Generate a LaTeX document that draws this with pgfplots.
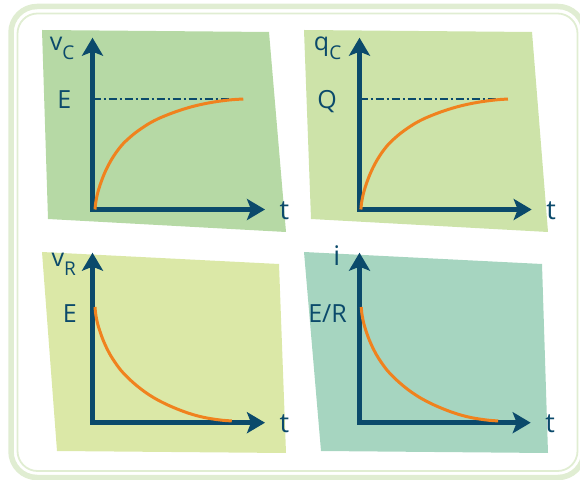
\documentclass[border=0pt]{standalone}
\usepackage{pgfplots}
\pgfplotsset{compat=1.18}
\usepackage{fontspec}
\setmainfont{Open Sans}
\usetikzlibrary{arrows.meta}
\definecolor{axisc}{HTML}{0B4A6B}
\definecolor{orangec}{HTML}{F0821E}
\definecolor{bgA}{HTML}{B6D9A5}
\definecolor{bgB}{HTML}{CDE3A9}
\definecolor{bgC}{HTML}{DBE8A7}
\definecolor{bgD}{HTML}{A6D5C0}
\definecolor{framec}{HTML}{E0EDD2}
\newcommand{\lab}[1]{{\fontsize{25}{29}\selectfont #1}}
\newcommand{\sub}[1]{\raisebox{-9pt}{\fontsize{19}{21}\selectfont #1}}
\pgfplotsset{
  panel/.style={
    scale only axis, anchor=origin, axis lines=left, enlargelimits=false, clip=false,
    xmin=0, xmax=1, ymin=0,
    xtick=\empty, major tick length=0pt, tick style={draw=none},
    axis line style={draw=axisc, line width=5pt, line cap=rect,
      -{Stealth[width=21pt,length=18pt,inset=4pt]}},
    yticklabel style={text=axisc, inner sep=0pt, anchor=base east},
    xlabel={\fontsize{27}{30}\selectfont t},
    xlabel style={at={(axis description cs:1,0)}, anchor=base west, inner sep=0pt,
      text=axisc, xshift=14.5pt, yshift=-10pt},
    ylabel style={at={(axis description cs:0,1)}, rotate=-90, anchor=base east, inner sep=0pt,
      text=axisc},
  },
  curve/.style={draw=orangec, line width=3pt, smooth, tension=0.5, no marks},
  level/.style={draw=axisc, line width=1.5pt, dash pattern=on 8pt off 3pt on 2pt off 3pt, no marks},
}
\begin{document}
\begin{tikzpicture}[x=1pt,y=1pt]
\useasboundingbox (0,0) rectangle (580,479);
\begin{scope}
  \clip (0,0) rectangle (580,479);
  \draw[framec, line width=5.5pt, rounded corners=26pt] (11,1.5) rectangle (584,472.5);
  \draw[framec, line width=1.8pt, rounded corners=20pt] (17.5,8) rectangle (577.5,465.5);
\end{scope}
% panel backgrounds
\fill[bgA] (42,449) -- (269,447) -- (286,247) -- (48,260) -- cycle;
\fill[bgB] (304,449) -- (532,447) -- (548,247) -- (311,260) -- cycle;
\fill[bgC] (42,227) -- (279,215) -- (286,26) -- (57,28) -- cycle;
\fill[bgD] (304,227) -- (542,215) -- (548,26) -- (321,28) -- cycle;

% panel 1: v_C
\begin{axis}[panel, at={(92.5pt,269.5pt)}, width=172.5pt, height=171.8pt, ymax=1.555,
  ytick={1}, yticklabels={\lab{E}}, yticklabel style={xshift=-21pt, yshift=-9pt},
  ylabel={\lab{v\sub{C}}},
  ylabel style={xshift=-18pt, yshift=-13pt}]
\addplot[level] coordinates {(0,1) (0.85,1)};
\addplot[curve] coordinates {(0.0145,0) (0.018,0.055) (0.024,0.109) (0.032,0.1615) (0.043,0.2175)
  (0.06,0.2915) (0.082,0.37) (0.11,0.4515) (0.14,0.523) (0.18,0.5995) (0.237,0.68) (0.285,0.735)
  (0.333,0.783) (0.38,0.821) (0.43,0.854) (0.48,0.8835) (0.526,0.9075) (0.575,0.93) (0.623,0.9485)
  (0.67,0.9635) (0.72,0.9768) (0.77,0.9872) (0.816,0.9947) (0.874,1.0)};
\end{axis}

% panel 2: q_C
\begin{axis}[panel, at={(359.5pt,269.5pt)}, width=172.2pt, height=171.8pt, ymax=1.555,
  ytick={1}, yticklabels={\lab{Q}}, yticklabel style={xshift=-22.5pt, yshift=-9pt},
  ylabel={\lab{q\sub{C}}},
  ylabel style={xshift=-18pt, yshift=-12.5pt}]
\addplot[level] coordinates {(0,1) (0.84,1)};
\addplot[curve] coordinates {(0.008,0) (0.0115,0.055) (0.0175,0.109) (0.0255,0.1615) (0.0365,0.2175)
  (0.0535,0.2915) (0.0755,0.37) (0.1035,0.4515) (0.1335,0.523) (0.1735,0.5995) (0.2305,0.68) (0.2785,0.735)
  (0.3265,0.783) (0.3735,0.821) (0.4235,0.854) (0.4735,0.8835) (0.5195,0.9075) (0.5685,0.93) (0.6165,0.9485)
  (0.6635,0.9635) (0.7135,0.9768) (0.7635,0.9872) (0.8095,0.9947) (0.862,1.0)};
\end{axis}

% panel 3: v_R
\begin{axis}[panel, at={(92.5pt,56.3pt)}, width=172.5pt, height=170pt, ymax=1.469,
  ytick={1}, yticklabels={\lab{E}}, yticklabel style={xshift=-15.5pt, yshift=-16pt},
  ylabel={\lab{v\sub{R}}},
  ylabel style={xshift=-16.5pt, yshift=-14pt}]
\addplot[curve] coordinates {(0.0145,1) (0.0177,0.948) (0.0233,0.898) (0.0306,0.850) (0.0408,0.800)
  (0.0565,0.733) (0.0768,0.662) (0.1026,0.587) (0.1303,0.522) (0.1672,0.448) (0.2198,0.368)
  (0.264,0.311) (0.3083,0.261) (0.3517,0.219) (0.3978,0.181) (0.4439,0.148) (0.4864,0.121)
  (0.5316,0.095) (0.5758,0.073) (0.6192,0.055) (0.6653,0.040) (0.7114,0.029) (0.7539,0.021) (0.8074,0.015)};
\end{axis}

% panel 4: i
\begin{axis}[panel, at={(359.5pt,56.3pt)}, width=171.2pt, height=170pt, ymax=1.469,
  ytick={1}, yticklabels={\lab{E/R}}, yticklabel style={xshift=-12.5pt, yshift=-16pt},
  ylabel={{\fontsize{27}{30}\selectfont i}},
  ylabel style={xshift=-19pt, yshift=-12.3pt}]
\addplot[curve] coordinates {(0.01,1) (0.0133,0.948) (0.019,0.898) (0.0263,0.850) (0.0366,0.800)
  (0.0524,0.733) (0.0729,0.662) (0.099,0.587) (0.1269,0.522) (0.1641,0.448) (0.2172,0.368)
  (0.2618,0.311) (0.3065,0.261) (0.3503,0.219) (0.3968,0.181) (0.4433,0.148) (0.4862,0.121)
  (0.5318,0.095) (0.5764,0.073) (0.6202,0.055) (0.6667,0.040) (0.7132,0.029) (0.7561,0.021) (0.81,0.015)};
\end{axis}
\end{tikzpicture}
\end{document}
